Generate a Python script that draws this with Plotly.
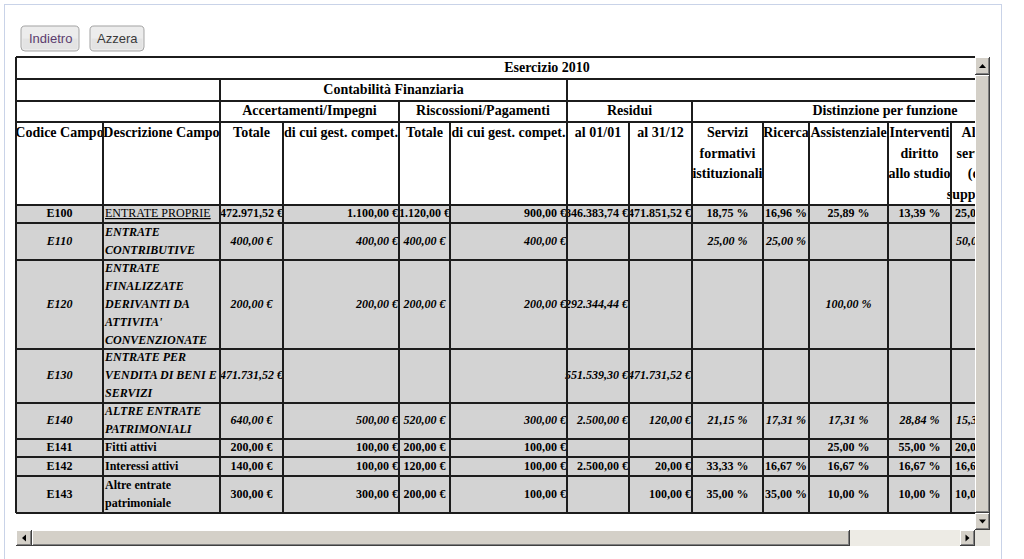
import plotly.graph_objects as go

W, H = 1024, 559

# ==========================================
# DATI DELLA TABELLA
# ==========================================
titolo = "Esercizio 2010"
gruppo_principale = "Contabilità Finanziaria"
gruppi = ["Accertamenti/Impegni", "Riscossioni/Pagamenti", "Residui", "Distinzione per funzione"]
intestazioni = [
    "Codice Campo", "Descrizione Campo", "Totale", "di cui gest. compet.",
    "Totale", "di cui gest. compet.", "al 01/01", "al 31/12",
    "Servizi\nformativi\nistituzionali", "Ricerca", "Assistenziale",
    "Interventi\ndiritto\nallo studio", "Altri\nservizi\n(di\nsupporto)",
]

codici = ["E100", "E110", "E120", "E130", "E140", "E141", "E142", "E143"]
descrizioni = [
    "ENTRATE PROPRIE",
    "ENTRATE\nCONTRIBUTIVE",
    "ENTRATE\nFINALIZZATE\nDERIVANTI DA\nATTIVITA'\nCONVENZIONATE",
    "ENTRATE PER\nVENDITA DI BENI E\nSERVIZI",
    "ALTRE ENTRATE\nPATRIMONIALI",
    "Fitti attivi",
    "Interessi attivi",
    "Altre entrate\npatrimoniale",
]
acc_totale = ["472.971,52 €", "400,00 €", "200,00 €", "471.731,52 €", "640,00 €", "200,00 €", "140,00 €", "300,00 €"]
acc_compet = ["1.100,00 €", "400,00 €", "200,00 €", "", "500,00 €", "100,00 €", "100,00 €", "300,00 €"]
ris_totale = ["1.120,00 €", "400,00 €", "200,00 €", "", "520,00 €", "200,00 €", "120,00 €", "200,00 €"]
ris_compet = ["900,00 €", "400,00 €", "200,00 €", "", "300,00 €", "100,00 €", "100,00 €", "100,00 €"]
res_0101 = ["846.383,74 €", "", "292.344,44 €", "551.539,30 €", "2.500,00 €", "", "2.500,00 €", ""]
res_3112 = ["471.851,52 €", "", "", "471.731,52 €", "120,00 €", "", "20,00 €", "100,00 €"]
serv_formativi = ["18,75 %", "25,00 %", "", "", "21,15 %", "", "33,33 %", "35,00 %"]
ricerca = ["16,96 %", "25,00 %", "", "", "17,31 %", "", "16,67 %", "35,00 %"]
assistenziale = ["25,89 %", "", "100,00 %", "", "17,31 %", "25,00 %", "16,67 %", "10,00 %"]
interventi = ["13,39 %", "", "", "", "28,84 %", "55,00 %", "16,67 %", "10,00 %"]
altri_servizi = ["25,01 %", "50,00 %", "", "", "15,39 %", "20,00 %", "16,66 %", "10,00 %"]
righe_corsive = [False, True, True, True, True, False, False, False]

colonne = [codici, descrizioni, acc_totale, acc_compet, ris_totale, ris_compet,
           res_0101, res_3112, serv_formativi, ricerca, assistenziale, interventi, altri_servizi]

# ==========================================
# GEOMETRIA (pixel)
# ==========================================
COL_X = [16, 103, 220, 283, 399, 450, 567, 629, 692, 763, 809, 888, 951, 1001]
TAB_DX = 1078
RIGHE_TESTA = [57, 79, 101, 122]
BODY_Y = [205, 223, 260, 349, 403, 439, 457, 476, 513]
ALLINEA = ["c", "l", "c", "r", "c", "r", "r", "r", "c", "c", "c", "c", "c"]
BORDO = "#1c1c1c"
GRIGIO = "#d3d3d3"
SERIF = "Liberation Serif"
SANS = "Liberation Sans"
FS_BODY = 12

shapes, annotations = [], []
tx, ty, tt, tpos, tsize = [], [], [], [], []


def testo(x, y, s, pos="middle center", size=FS_BODY):
    tx.append(x); ty.append(y); tt.append(s); tpos.append(pos); tsize.append(size)


def linea(x0, y0, x1, y1, w=2):
    shapes.append(dict(type="line", xref="x", yref="y", x0=x0, y0=y0, x1=x1, y1=y1,
                       line=dict(color=BORDO, width=w), layer="above"))


# sfondo grigio righe del corpo
for i in range(len(codici)):
    shapes.append(dict(type="rect", xref="x", yref="y", x0=COL_X[0], x1=TAB_DX,
                       y0=BODY_Y[i], y1=BODY_Y[i + 1], fillcolor=GRIGIO,
                       line=dict(width=0), layer="below"))

# bordi orizzontali
for y in RIGHE_TESTA + BODY_Y:
    linea(COL_X[0], y, TAB_DX, y)
# bordi verticali
linea(COL_X[0], RIGHE_TESTA[0], COL_X[0], BODY_Y[-1])
for x in [220, 567]:
    linea(x, RIGHE_TESTA[1], x, RIGHE_TESTA[2])
for x in [220, 399, 567, 692]:
    linea(x, RIGHE_TESTA[2], x, RIGHE_TESTA[3])
for x in COL_X[1:]:
    linea(x, RIGHE_TESTA[3], x, BODY_Y[-1])

# testi intestazione
testo((COL_X[0] + TAB_DX) / 2, 68, f"<b>{titolo}</b>", size=14)
testo((220 + 567) / 2, 90, f"<b>{gruppo_principale}</b>", size=14)
for g, (a, b) in zip(gruppi, [(220, 399), (399, 567), (567, 692), (692, TAB_DX)]):
    testo((a + b) / 2, 111.5, f"<b>{g}</b>", size=14)
for c, h in enumerate(intestazioni):
    cx = (COL_X[c] + COL_X[c + 1]) / 2
    for k, riga in enumerate(h.split("\n")):
        testo(cx, 133.5 + k * 20.5, f"<b>{riga}</b>", size=14)

# testi corpo
LH = 18
for r in range(len(codici)):
    mid = (BODY_Y[r] + BODY_Y[r + 1]) / 2
    for c, col in enumerate(colonne):
        val = col[r]
        if not val:
            continue
        righe = val.split("\n")
        for k, riga in enumerate(righe):
            y = mid + (k - (len(righe) - 1) / 2) * LH
            s = riga
            if r == 0 and c == 1:
                s = f"<u>{s}</u>"
            else:
                s = f"<b>{s}</b>"
            if righe_corsive[r]:
                s = f"<i>{s}</i>"
            if ALLINEA[c] == "l":
                testo(COL_X[c] + 2, y, s, "middle right")
            elif ALLINEA[c] == "r":
                testo(COL_X[c + 1] - 1, y, s, "middle left")
            else:
                testo((COL_X[c] + COL_X[c + 1]) / 2, y, s)

fig = go.Figure(go.Scatter(
    x=tx, y=ty, text=tt, mode="text", textposition=tpos, cliponaxis=True,
    textfont=dict(family=SERIF, size=tsize, color="#000000"),
    hoverinfo="skip", showlegend=False,
))


# ==========================================
# ELEMENTI DI PAGINA (pulsanti, barre di scorrimento)
# ==========================================
def px(x):
    return x / W


def py(y):
    return 1 - y / H


def rett(x0, y0, x1, y1, fill):
    shapes.append(dict(type="rect", xref="paper", yref="paper", x0=px(x0), x1=px(x1),
                       y0=py(y1), y1=py(y0), fillcolor=fill, line=dict(width=0)))


def seg(x0, y0, x1, y1, col, w=1):
    shapes.append(dict(type="line", xref="paper", yref="paper", x0=px(x0), y0=py(y0),
                       x1=px(x1), y1=py(y1), line=dict(color=col, width=w)))


def rilievo(x0, y0, x1, y1):
    rett(x0, y0, x1, y1, "#d4d0c8")
    seg(x0, y0 + 0.5, x1, y0 + 0.5, "#ffffff")
    seg(x0 + 0.5, y0, x0 + 0.5, y1, "#ffffff")
    seg(x0, y1 - 0.5, x1, y1 - 0.5, "#404040")
    seg(x1 - 0.5, y0, x1 - 0.5, y1, "#404040")
    seg(x0 + 1, y1 - 1.5, x1 - 1, y1 - 1.5, "#808080")
    seg(x1 - 1.5, y0 + 1, x1 - 1.5, y1 - 1, "#808080")


def freccia(cx, cy, verso):
    pts = {"su": [(cx - 3.5, cy + 2), (cx + 3.5, cy + 2), (cx, cy - 2)],
           "giu": [(cx - 3.5, cy - 2), (cx + 3.5, cy - 2), (cx, cy + 2)],
           "sx": [(cx + 2, cy - 3.5), (cx + 2, cy + 3.5), (cx - 2, cy)],
           "dx": [(cx - 2, cy - 3.5), (cx - 2, cy + 3.5), (cx + 2, cy)]}[verso]
    path = "M " + " L ".join(f"{px(a):.5f},{py(b):.5f}" for a, b in pts) + " Z"
    shapes.append(dict(type="path", xref="paper", yref="paper", path=path,
                       fillcolor="#000000", line=dict(width=0)))


def pulsante(x0, y0, x1, y1, r=4):
    def p(a, b):
        return f"{px(a):.5f},{py(b):.5f}"
    path = (f"M {p(x0 + r, y0)} L {p(x1 - r, y0)} Q {p(x1, y0)} {p(x1, y0 + r)}"
            f" L {p(x1, y1 - r)} Q {p(x1, y1)} {p(x1 - r, y1)}"
            f" L {p(x0 + r, y1)} Q {p(x0, y1)} {p(x0, y1 - r)}"
            f" L {p(x0, y0 + r)} Q {p(x0, y0)} {p(x0 + r, y0)} Z")
    shapes.append(dict(type="path", xref="paper", yref="paper", path=path,
                       fillcolor="#ececec", line=dict(color="#a3a3a3", width=1)))
    # leggera sfumatura nella metà inferiore
    rett(x0 + 1.5, (y0 + y1) / 2, x1 - 1.5, y1 - 2, "#e3e3e3")


# contenitore
seg(4, 4.5, 1002, 4.5, "#c9d3e8")
seg(4.5, 4, 4.5, H, "#c9d3e8")
seg(1001.5, 4, 1001.5, H, "#c9d3e8")

# pulsanti
pulsante(21, 26, 79, 51)
pulsante(90, 26, 144, 51)
annotations.append(dict(text="Indietro", x=px(50), y=py(38.5), xref="paper", yref="paper",
                        xanchor="center", yanchor="middle", showarrow=False,
                        font=dict(family=SANS, size=13, color="#5b3c6e")))
annotations.append(dict(text="Azzera", x=px(117), y=py(38.5), xref="paper", yref="paper",
                        xanchor="center", yanchor="middle", showarrow=False,
                        font=dict(family=SANS, size=13, color="#3a3a3a")))

# barra verticale
rilievo(975, 57, 990, 75)
freccia(982.5, 66, "su")
rilievo(975, 75, 990, 513)
rilievo(975, 513, 990, 530)
freccia(982.5, 521.5, "giu")

# barra orizzontale
rett(850, 530, 960, 546, "#edebe5")
rilievo(16, 530, 32, 546)
freccia(24, 538, "sx")
rilievo(32, 530, 850, 546)
rilievo(960, 530, 975, 546)
freccia(967.5, 538, "dx")
rett(975, 530, 990, 546, "#e6e4de")

fig.update_layout(
    width=W, height=H, margin=dict(l=0, r=0, t=0, b=0),
    paper_bgcolor="#ffffff", plot_bgcolor="rgba(0,0,0,0)",
    xaxis=dict(domain=[14 / W, 975 / W], range=[14, 975], visible=False, fixedrange=True),
    yaxis=dict(domain=[1 - 530 / H, 1 - 56 / H], range=[530, 56], visible=False, fixedrange=True),
    shapes=shapes, annotations=annotations, showlegend=False,
)

fig.write_html("out.html", config={"displayModeBar": False},
               post_script="document.body.style.margin='0px';")
